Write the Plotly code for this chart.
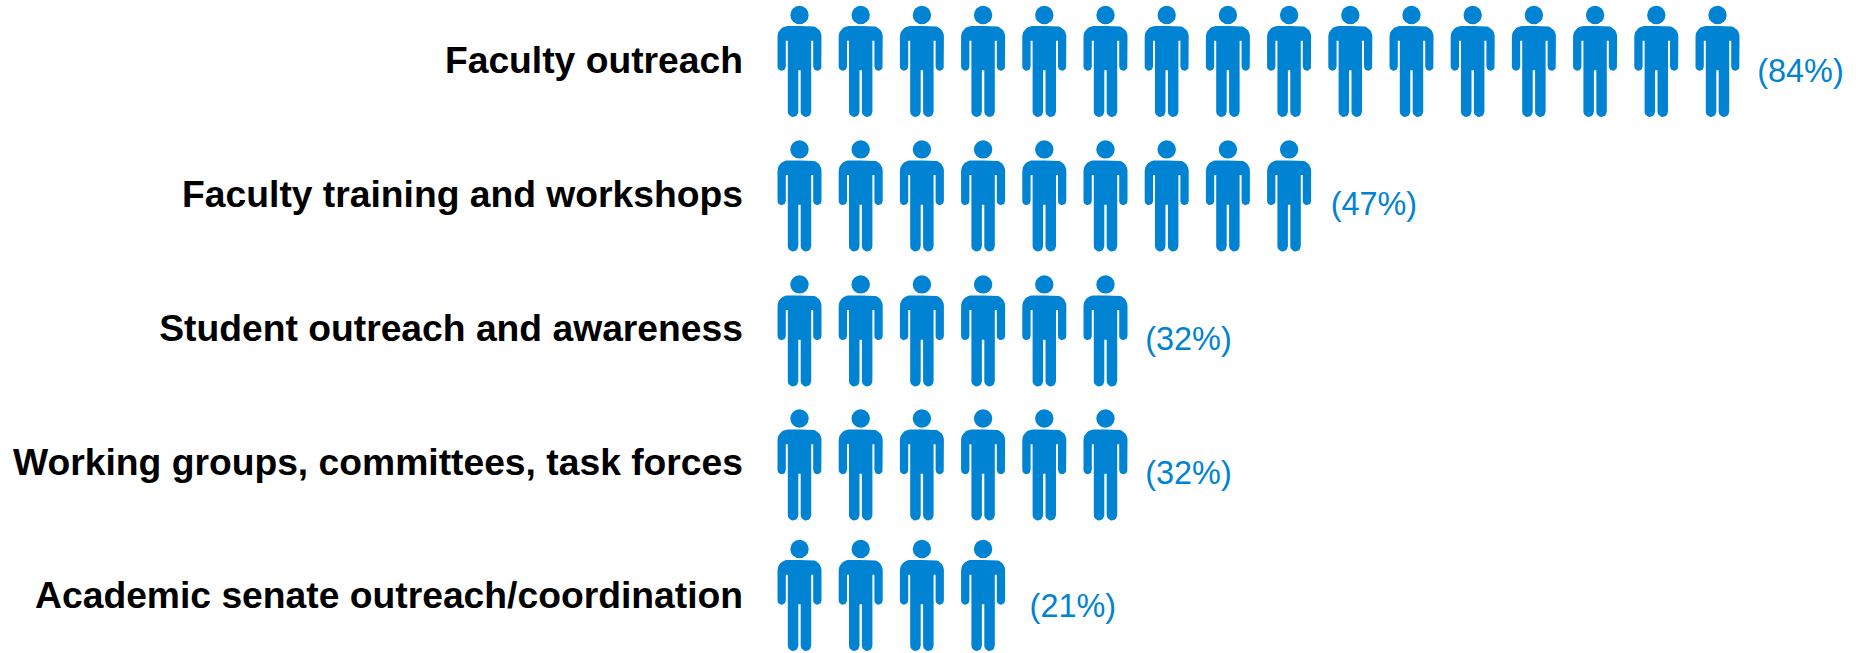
import math
import plotly.graph_objects as go

# ---- data ----
activities = [
    "Faculty outreach",
    "Faculty training and workshops",
    "Student outreach and awareness",
    "Working groups, committees, task forces",
    "Academic senate outreach/coordination",
]
people_counts = [16, 9, 6, 6, 4]
percent_labels = ["(84%)", "(47%)", "(32%)", "(32%)", "(21%)"]

# ---- layout of the rows, in row units ----
row_positions = [0, 0.9993, 2.003, 3.0, 3.97]
name_label_rows = [0.335, 1.33, 2.325, 3.325, 4.315]
pct_label_rows = [0.435, 1.428, 2.428, 3.428, 4.418]
pct_label_gaps = [0.65, 0.68, 0.65, 0.65, 0.76]

BLUE = "#0083D3"
W, H = 1856, 653
PX_X = 61.2     # pixels per person
PX_Y = 134.5    # pixels per row
X0, Y0 = 799.5, 15.0   # pixel of first head
LEFT = 750


def arc(cx, cy, r, a0, a1, n=10):
    return [(cx + r * math.cos(math.radians(a0 + (a1 - a0) * k / n)),
             cy + r * math.sin(math.radians(a0 + (a1 - a0) * k / n))) for k in range(n + 1)]


def body_outline():
    """Right half then mirrored left half of a person, px relative to head centre (y down)."""
    top, shoulder, hw = 11.0, 10.5, 22.0
    arm_w, arm_end = 8.3, 55.7
    torso, slot_top = 11.7, 25.7
    gap, crotch, foot = 1.2, 55.3, 102.0
    right = [(0, top), (hw - shoulder, top)]
    right += arc(hw - shoulder, top + shoulder, shoulder, -90, 0)
    ra = arm_w / 2
    right += arc(hw - ra, arm_end - ra, ra, 0, 180)
    right += [(hw - arm_w, slot_top), (torso, slot_top)]
    rl = (torso - gap) / 2
    right += arc(gap + rl, foot - rl, rl, 0, 180)
    right += [(gap, crotch), (0, crotch)]
    left = [(-x, y) for x, y in reversed(right)]
    return right + left


outline = body_outline()

fig = go.Figure()
head_x, head_y, body_x, body_y = [], [], [], []
for row, count in zip(row_positions, people_counts):
    for i in range(count):
        head_x.append(i)
        head_y.append(row)
        body_x += [i + dx / PX_X for dx, _ in outline] + [None]
        body_y += [row + dy / PX_Y for _, dy in outline] + [None]

fig.add_trace(go.Scatter(x=body_x, y=body_y, mode="lines", fill="toself", fillcolor=BLUE,
                         line=dict(width=0, color=BLUE), hoverinfo="skip", showlegend=False))
fig.add_trace(go.Scatter(x=head_x, y=head_y, mode="markers",
                         marker=dict(size=18.4, color=BLUE, line=dict(width=0)),
                         hoverinfo="skip", showlegend=False))
fig.add_trace(go.Scatter(
    x=[c - 1 + g for c, g in zip(people_counts, pct_label_gaps)],
    y=pct_label_rows, mode="text", text=percent_labels, textposition="middle right",
    textfont=dict(family="Liberation Sans", size=32.4, color=BLUE),
    hoverinfo="skip", showlegend=False, cliponaxis=False))

fig.update_layout(
    width=W, height=H, margin=dict(l=LEFT, r=0, t=0, b=0, pad=0),
    paper_bgcolor="white", plot_bgcolor="white", showlegend=False,
    xaxis=dict(range=[(LEFT - X0) / PX_X, (W - X0) / PX_X], visible=False, fixedrange=True),
    yaxis=dict(range=[(H - Y0) / PX_Y, -Y0 / PX_Y], tickmode="array",
               tickvals=name_label_rows, ticktext=activities, showgrid=False, zeroline=False,
               showline=False, ticks="", ticklen=0, automargin=False, fixedrange=True,
               ticklabelstandoff=6,
               tickfont=dict(family="Liberation Sans", size=37.25, color="black", weight="bold")),
)
fig.write_html("out.html", config={"displayModeBar": False},
               post_script="document.body.style.margin='0';document.documentElement.style.overflow='hidden';")
